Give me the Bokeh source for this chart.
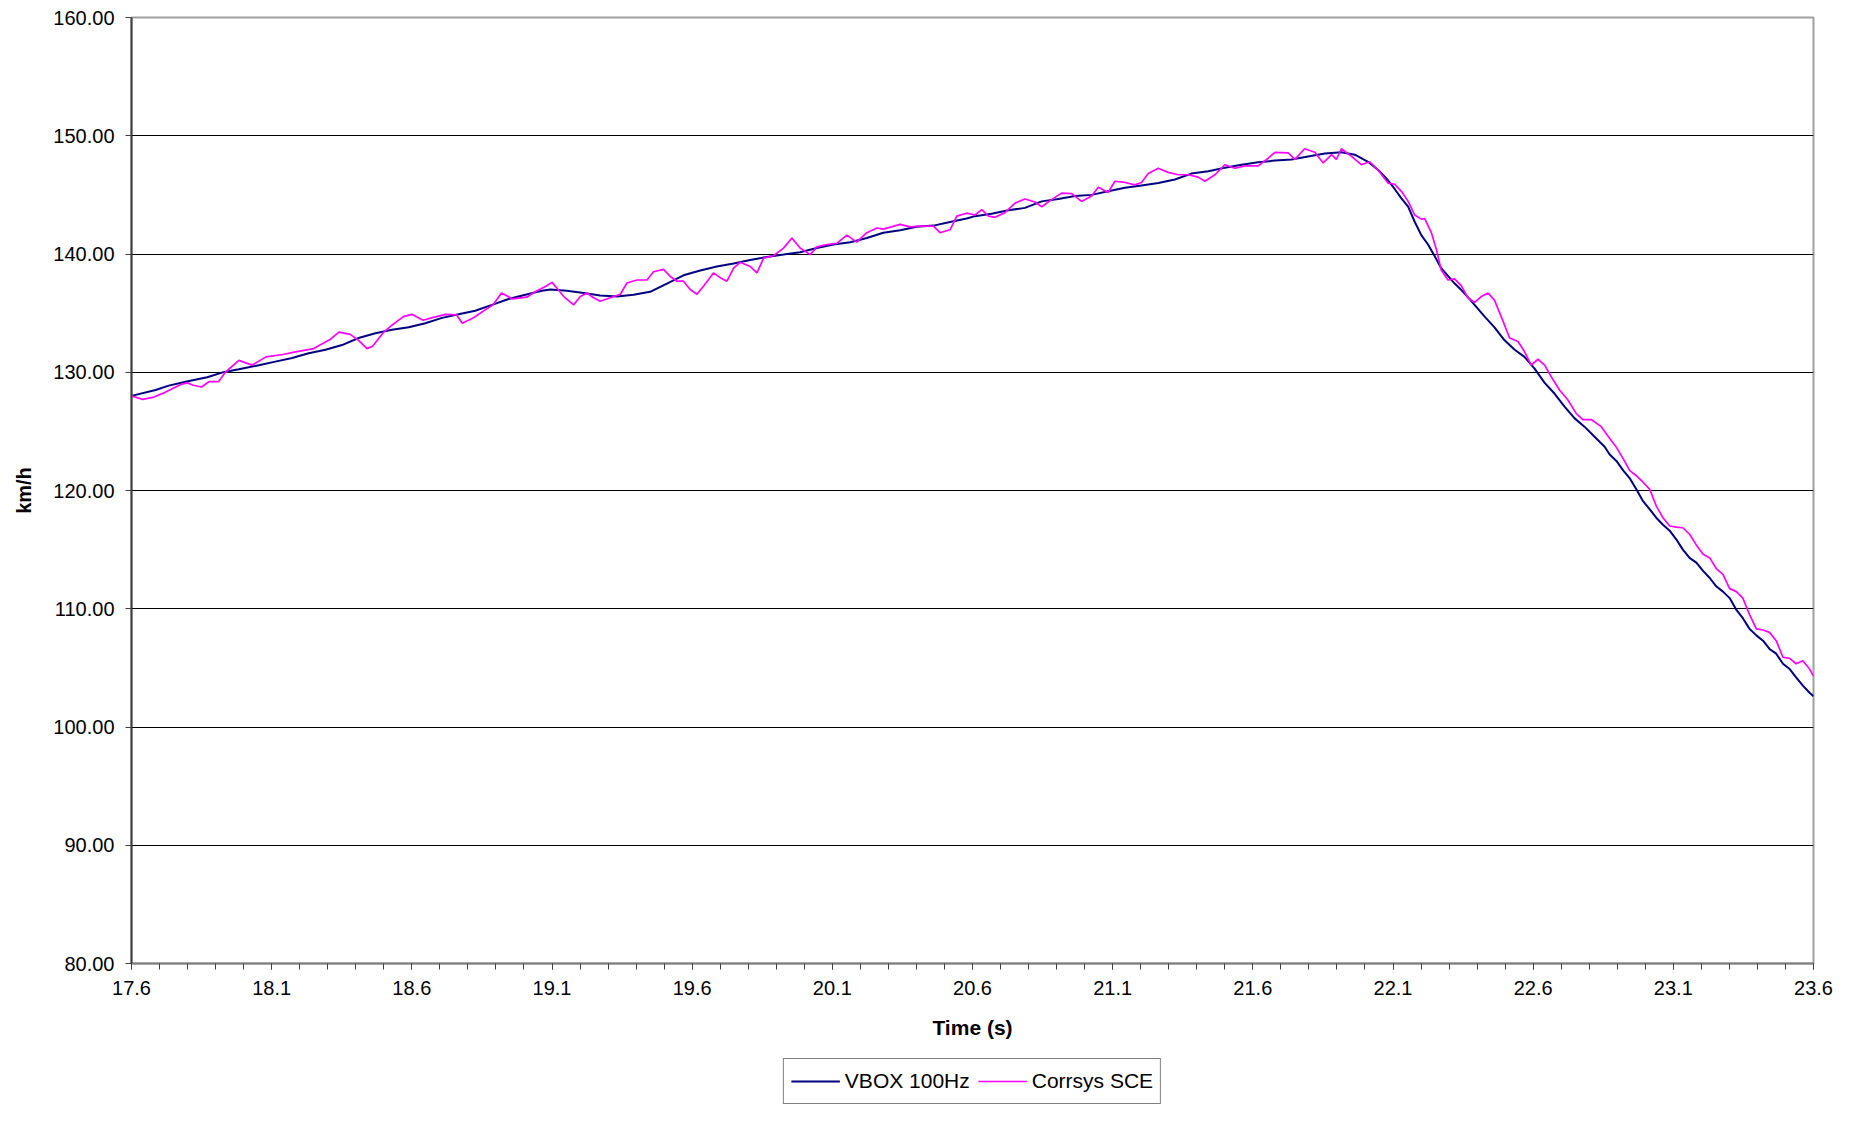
from bokeh.plotting import figure
from bokeh.layouts import column
from bokeh.models import Range1d, FixedTicker, PrintfTickFormatter, Legend, LegendItem
from bokeh.embed import file_html
from bokeh.resources import INLINE

# ---------------- data ----------------
x_tick_labels = ["17.6", "18.1", "18.6", "19.1", "19.6", "20.1", "20.6",
                 "21.1", "21.6", "22.1", "22.6", "23.1", "23.6"]
y_tick_labels = ["80.00", "90.00", "100.00", "110.00", "120.00", "130.00",
                 "140.00", "150.00", "160.00"]

vbox_t = [17.600, 17.686, 17.733, 17.793, 17.870, 17.923, 17.983, 18.054, 18.113, 18.173,
          18.232, 18.292, 18.351, 18.410, 18.470, 18.529, 18.589, 18.648, 18.708, 18.767,
          18.826, 18.886, 18.945, 19.005, 19.064, 19.094, 19.153, 19.213, 19.272, 19.332,
          19.391, 19.450, 19.510, 19.569, 19.629, 19.688, 19.748, 19.807, 19.866, 19.926,
          19.985, 20.045, 20.104, 20.164, 20.223, 20.282, 20.342, 20.401, 20.461, 20.520,
          20.579, 20.609, 20.668, 20.728, 20.787, 20.847, 20.906, 20.966, 21.025, 21.084,
          21.144, 21.203, 21.263, 21.322, 21.381, 21.441, 21.500, 21.560, 21.619, 21.679,
          21.738, 21.797, 21.857, 21.916, 21.964, 22.011, 22.047, 22.080, 22.106, 22.130,
          22.154, 22.177, 22.201, 22.225, 22.249, 22.272, 22.296, 22.320, 22.344, 22.367,
          22.391, 22.427, 22.462, 22.498, 22.534, 22.569, 22.605, 22.641, 22.676, 22.712,
          22.748, 22.783, 22.819, 22.855, 22.873, 22.897, 22.921, 22.944, 22.968, 22.992,
          23.016, 23.039, 23.063, 23.087, 23.111, 23.134, 23.158, 23.182, 23.206, 23.230,
          23.253, 23.277, 23.301, 23.325, 23.348, 23.372, 23.396, 23.420, 23.443, 23.467,
          23.491, 23.515, 23.538, 23.562, 23.586, 23.600]
vbox_v = [128.0, 128.5, 128.87, 129.2, 129.58, 129.97, 130.25, 130.6, 130.9, 131.2,
          131.6, 131.9, 132.3, 132.9, 133.3, 133.6, 133.8, 134.15, 134.6, 134.9,
          135.2, 135.7, 136.2, 136.55, 136.9, 137.0, 136.9, 136.7, 136.5, 136.4,
          136.55, 136.8, 137.5, 138.2, 138.6, 138.95, 139.2, 139.5, 139.75, 139.95,
          140.15, 140.5, 140.8, 141.0, 141.35, 141.8, 142.0, 142.3, 142.4, 142.7,
          143.0, 143.2, 143.4, 143.7, 143.9, 144.45, 144.65, 144.9, 145.0, 145.3,
          145.6, 145.8, 146.0, 146.3, 146.8, 147.0, 147.3, 147.55, 147.75, 147.9,
          148.0, 148.25, 148.5, 148.6, 148.4, 147.8, 147.1, 146.3, 145.5, 144.7,
          144.0, 142.75, 141.6, 140.8, 139.8, 138.8, 138.15, 137.5, 136.95, 136.35,
          135.7, 134.7, 133.8, 132.7, 131.9, 131.3, 130.3, 129.1, 128.2, 127.1,
          126.1, 125.4, 124.55, 123.7, 123.04, 122.5, 121.7, 121.05, 120.1, 119.1,
          118.4, 117.7, 117.1, 116.6, 115.85, 115.0, 114.3, 113.9, 113.2, 112.6,
          111.9, 111.45, 110.9, 109.9, 109.2, 108.3, 107.75, 107.3, 106.6, 106.2,
          105.35, 104.9, 104.2, 103.5, 102.9, 102.6]

corr_t = [17.600, 17.640, 17.680, 17.720, 17.745, 17.780, 17.800, 17.820, 17.850, 17.876,
          17.910, 17.935, 17.983, 18.030, 18.080, 18.140, 18.190, 18.250, 18.310, 18.340,
          18.380, 18.410, 18.440, 18.460, 18.500, 18.530, 18.570, 18.600, 18.640, 18.670,
          18.720, 18.760, 18.780, 18.820, 18.850, 18.890, 18.920, 18.960, 19.010, 19.040,
          19.080, 19.100, 19.118, 19.142, 19.177, 19.201, 19.225, 19.248, 19.272, 19.308,
          19.344, 19.367, 19.403, 19.439, 19.462, 19.498, 19.522, 19.546, 19.569, 19.593,
          19.617, 19.641, 19.676, 19.700, 19.724, 19.748, 19.771, 19.807, 19.831, 19.855,
          19.890, 19.926, 19.956, 19.985, 20.021, 20.045, 20.080, 20.116, 20.152, 20.187,
          20.223, 20.259, 20.282, 20.342, 20.377, 20.413, 20.461, 20.484, 20.520, 20.544,
          20.579, 20.609, 20.633, 20.657, 20.680, 20.716, 20.752, 20.787, 20.823, 20.847,
          20.882, 20.918, 20.954, 20.989, 21.025, 21.049, 21.084, 21.108, 21.144, 21.179,
          21.203, 21.227, 21.263, 21.298, 21.334, 21.370, 21.405, 21.429, 21.465, 21.500,
          21.536, 21.572, 21.619, 21.655, 21.679, 21.726, 21.750, 21.785, 21.821, 21.851,
          21.881, 21.898, 21.916, 21.952, 21.987, 22.017, 22.047, 22.082, 22.106, 22.130,
          22.154, 22.177, 22.201, 22.213, 22.237, 22.255, 22.272, 22.296, 22.320, 22.344,
          22.367, 22.391, 22.415, 22.439, 22.462, 22.486, 22.516, 22.546, 22.569, 22.593,
          22.617, 22.641, 22.665, 22.694, 22.724, 22.754, 22.777, 22.807, 22.843, 22.873,
          22.897, 22.921, 22.944, 22.968, 22.992, 23.016, 23.039, 23.063, 23.087, 23.111,
          23.134, 23.158, 23.182, 23.206, 23.230, 23.253, 23.277, 23.301, 23.325, 23.348,
          23.372, 23.396, 23.420, 23.443, 23.467, 23.491, 23.515, 23.538, 23.562, 23.586,
          23.600]
corr_v = [128.0, 127.7, 127.9, 128.3, 128.6, 129.0, 129.1, 128.9, 128.75, 129.2,
          129.2, 130.0, 131.0, 130.6, 131.3, 131.5, 131.75, 132.0, 132.8, 133.4,
          133.2, 132.7, 132.0, 132.2, 133.4, 134.0, 134.7, 134.9, 134.4, 134.6,
          134.9, 134.85, 134.15, 134.6, 135.1, 135.7, 136.7, 136.2, 136.35, 136.8,
          137.3, 137.6, 137.1, 136.4, 135.7, 136.4, 136.7, 136.3, 136.0, 136.3,
          136.6, 137.55, 137.8, 137.8, 138.5, 138.7, 138.1, 137.7, 137.7, 137.0,
          136.6, 137.3, 138.4, 138.0, 137.7, 138.8, 139.3, 138.95, 138.4, 139.65,
          139.85, 140.5, 141.35, 140.5, 139.95, 140.6, 140.8, 140.9, 141.6, 141.0,
          141.8, 142.2, 142.1, 142.5, 142.3, 142.35, 142.35, 141.8, 142.05, 143.2,
          143.45, 143.3, 143.75, 143.2, 143.1, 143.5, 144.3, 144.65, 144.4, 144.0,
          144.6, 145.15, 145.1, 144.45, 144.9, 145.65, 145.2, 146.15, 146.05, 145.85,
          146.05, 146.8, 147.25, 146.9, 146.7, 146.7, 146.5, 146.15, 146.7, 147.55,
          147.25, 147.45, 147.45, 148.1, 148.6, 148.55, 148.0, 148.9, 148.6, 147.7,
          148.4, 148.0, 148.9, 148.25, 147.55, 147.8, 147.1, 146.0, 145.9, 145.3,
          144.45, 143.3, 142.95, 143.0, 141.8, 140.35, 138.65, 137.8, 137.9, 137.3,
          136.3, 135.9, 136.4, 136.7, 136.1, 134.7, 132.9, 132.6, 131.75, 130.6,
          131.1, 130.6, 129.6, 128.5, 127.65, 126.5, 126.0, 126.0, 125.4, 124.4,
          123.65, 122.7, 121.7, 121.25, 120.7, 120.1, 118.7, 117.7, 117.0, 116.9,
          116.85, 116.3, 115.4, 114.6, 114.3, 113.4, 112.9, 111.7, 111.45, 110.9,
          109.5, 108.3, 108.2, 108.0, 107.3, 105.9, 105.8, 105.35, 105.6, 104.9,
          104.3]

series_names = ["VBOX 100Hz", "Corrsys SCE"]
series_colors = ["#000080", "#FF00FF"]
series_widths = [2, 1.7]

# ---------------- main figure ----------------
x_major = [float(s) for s in x_tick_labels]
y_major = [float(s) for s in y_tick_labels]
x_minor = [round(x_major[0] + 0.1 * i, 1) for i in range(int(round((x_major[-1] - x_major[0]) / 0.1)) + 1)]

FONT = "Liberation Sans"
W = 1843

p = figure(width=W, height=1053, output_backend="svg", toolbar_location=None,
           x_range=Range1d(x_major[0], x_major[-1]), y_range=Range1d(y_major[0], y_major[-1]),
           min_border_left=131, min_border_right=30, min_border_top=17, min_border_bottom=90)
p.background_fill_color = "white"
p.border_fill_color = "white"
p.outline_line_color = "#a0a0a0"
p.outline_line_width = 2

p.xgrid.visible = False
p.ygrid.ticker = FixedTicker(ticks=y_major[1:-1])
p.ygrid.grid_line_color = "#000000"
p.ygrid.grid_line_width = 1

# x axis
p.xaxis.ticker = FixedTicker(ticks=x_major, minor_ticks=x_minor)
p.xaxis.formatter = PrintfTickFormatter(format="%.1f")
p.xaxis.axis_line_color = "#808080"
p.xaxis.axis_line_width = 2
p.xaxis.major_tick_line_color = "#404040"
p.xaxis.minor_tick_line_color = "#404040"
p.xaxis.major_tick_in = 0
p.xaxis.major_tick_out = 6
p.xaxis.minor_tick_in = 0
p.xaxis.minor_tick_out = 6
p.xaxis.major_label_standoff = 11
p.xaxis.major_label_text_font = FONT
p.xaxis.major_label_text_font_size = "20px"
p.xaxis.major_label_text_color = "#000000"
p.xaxis.axis_label = "Time (s)"
p.xaxis.axis_label_text_font = FONT
p.xaxis.axis_label_text_font_style = "bold"
p.xaxis.axis_label_text_font_size = "21px"
p.xaxis.axis_label_text_color = "#000000"
p.xaxis.axis_label_standoff = 18

# y axis
p.yaxis.ticker = FixedTicker(ticks=y_major)
p.yaxis.formatter = PrintfTickFormatter(format="%.2f")
p.yaxis.axis_line_color = "#404040"
p.yaxis.axis_line_width = 2
p.yaxis.major_tick_line_color = "#404040"
p.yaxis.minor_tick_line_color = None
p.yaxis.major_tick_in = 0
p.yaxis.major_tick_out = 6
p.yaxis.major_label_standoff = 11
p.yaxis.major_label_text_font = FONT
p.yaxis.major_label_text_font_size = "20px"
p.yaxis.major_label_text_color = "#000000"
p.yaxis.axis_label = "km/h"
p.yaxis.axis_label_text_font = FONT
p.yaxis.axis_label_text_font_style = "bold"
p.yaxis.axis_label_text_font_size = "20px"
p.yaxis.axis_label_text_color = "#000000"
p.yaxis.axis_label_standoff = 15

p.line(vbox_t, vbox_v, line_color=series_colors[0], line_width=series_widths[0])
p.line(corr_t, corr_v, line_color=series_colors[1], line_width=series_widths[1])

# ---------------- legend strip (separate small figure below) ----------------
# the same series are drawn here outside this strip's visible range, only so that
# the legend has line renderers to show swatches for
pl = figure(width=W, height=56, output_backend="svg", toolbar_location=None,
            x_range=Range1d(0, 1), y_range=Range1d(0, 1),
            min_border_left=131, min_border_right=30, min_border_top=0, min_border_bottom=0)
pl.axis.visible = False
pl.grid.visible = False
pl.outline_line_color = None
pl.background_fill_color = "white"
pl.border_fill_color = "white"
k1 = pl.line(vbox_t, vbox_v, line_color=series_colors[0], line_width=series_widths[0])
k2 = pl.line(corr_t, corr_v, line_color=series_colors[1], line_width=series_widths[1])

legend = Legend(items=[LegendItem(label=series_names[0], renderers=[k1]),
                       LegendItem(label=series_names[1], renderers=[k2])],
                orientation="horizontal", location="center")
legend.border_line_color = "#000000"
legend.border_line_width = 1
legend.background_fill_color = "white"
legend.background_fill_alpha = 1.0
legend.padding = 7
legend.spacing = 8
legend.margin = 0
legend.glyph_width = 49
legend.glyph_height = 30
legend.label_height = 30
legend.label_standoff = 5
legend.label_text_font = FONT
legend.label_text_font_size = "21px"
legend.label_text_color = "#000000"
pl.add_layout(legend, "center")

layout = column(p, pl, spacing=0)
open("out.html", "w").write(file_html(layout, INLINE))
